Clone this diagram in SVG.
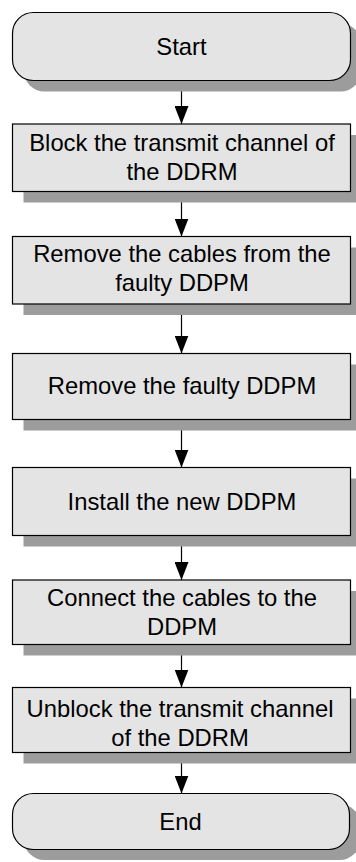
<svg xmlns="http://www.w3.org/2000/svg" width="356" height="862" viewBox="0 0 356 862">
  <style>
    .box { fill: #e4e4e4; stroke: #000; stroke-width: 1.2; }
    .shadow { fill: #9c9c9c; }
    .label { font-family: "Liberation Sans", Arial, sans-serif; font-size: 23.8px; fill: #000; text-anchor: middle; }
    .conn { stroke: #000; stroke-width: 1.2; fill: none; marker-end: url(#arrowDown); }
  </style>
  <defs>
    <!-- downward arrowhead, tip sits on the end of the line -->
    <marker id="arrowDown" markerUnits="userSpaceOnUse" markerWidth="14" markerHeight="18" viewBox="0 0 14 18" refX="7" refY="18" orient="0">
      <path d="M0,0 L14,0 L7,18 Z" fill="#000"/>
    </marker>
  </defs>

  <!-- connectors -->
  <g id="connectors">
    <line class="conn" x1="181.5" y1="81" x2="181.5" y2="124"/>
    <line class="conn" x1="181.5" y1="191.5" x2="181.5" y2="236.5"/>
    <line class="conn" x1="181.5" y1="304" x2="181.5" y2="353.5"/>
    <line class="conn" x1="181.5" y1="419.5" x2="181.5" y2="467.5"/>
    <line class="conn" x1="181.5" y1="535.5" x2="181.5" y2="580"/>
    <line class="conn" x1="181.5" y1="644.5" x2="181.5" y2="687.5"/>
    <line class="conn" x1="181.5" y1="752.5" x2="181.5" y2="793.5"/>
  </g>

  <g id="start">
    <rect class="shadow" x="23.5" y="23.5" width="338" height="68" rx="21"/>
    <rect class="box" x="12.5" y="12.5" width="338" height="68" rx="21"/>
    <text class="label" x="181.5" y="55">Start</text>
  </g>

  <g id="block-tx">
    <rect class="shadow" x="23.5" y="135" width="338" height="67.5"/>
    <rect class="box" x="12.5" y="124" width="338" height="67.5"/>
    <text class="label" x="182" y="151">Block the transmit channel of</text>
    <text class="label" x="182" y="180">the DDRM</text>
  </g>

  <g id="remove-cables">
    <rect class="shadow" x="23.5" y="247.5" width="338" height="67.5"/>
    <rect class="box" x="12.5" y="236.5" width="338" height="67.5"/>
    <text class="label" x="182" y="262">Remove the cables from the</text>
    <text class="label" x="182" y="291">faulty DDPM</text>
  </g>

  <g id="remove-ddpm">
    <rect class="shadow" x="23.5" y="364.5" width="338" height="66"/>
    <rect class="box" x="12.5" y="353.5" width="338" height="66"/>
    <text class="label" x="182" y="394">Remove the faulty DDPM</text>
  </g>

  <g id="install-ddpm">
    <rect class="shadow" x="23.5" y="478.5" width="338" height="68"/>
    <rect class="box" x="12.5" y="467.5" width="338" height="68"/>
    <text class="label" x="182" y="509.5">Install the new DDPM</text>
  </g>

  <g id="connect-cables">
    <rect class="shadow" x="23.5" y="591" width="338" height="64.5"/>
    <rect class="box" x="12.5" y="580" width="338" height="64.5"/>
    <text class="label" x="182" y="606">Connect the cables to the</text>
    <text class="label" x="182" y="635">DDPM</text>
  </g>

  <g id="unblock-tx">
    <rect class="shadow" x="23.5" y="698.5" width="338" height="65"/>
    <rect class="box" x="12.5" y="687.5" width="338" height="65"/>
    <text class="label" x="180" y="717">Unblock the transmit channel</text>
    <text class="label" x="180" y="746">of the DDRM</text>
  </g>

  <g id="end">
    <rect class="shadow" x="23.5" y="804" width="337" height="56" rx="21"/>
    <rect class="box" x="12.5" y="793.5" width="337" height="56" rx="21"/>
    <text class="label" x="180.5" y="830">End</text>
  </g>
</svg>
